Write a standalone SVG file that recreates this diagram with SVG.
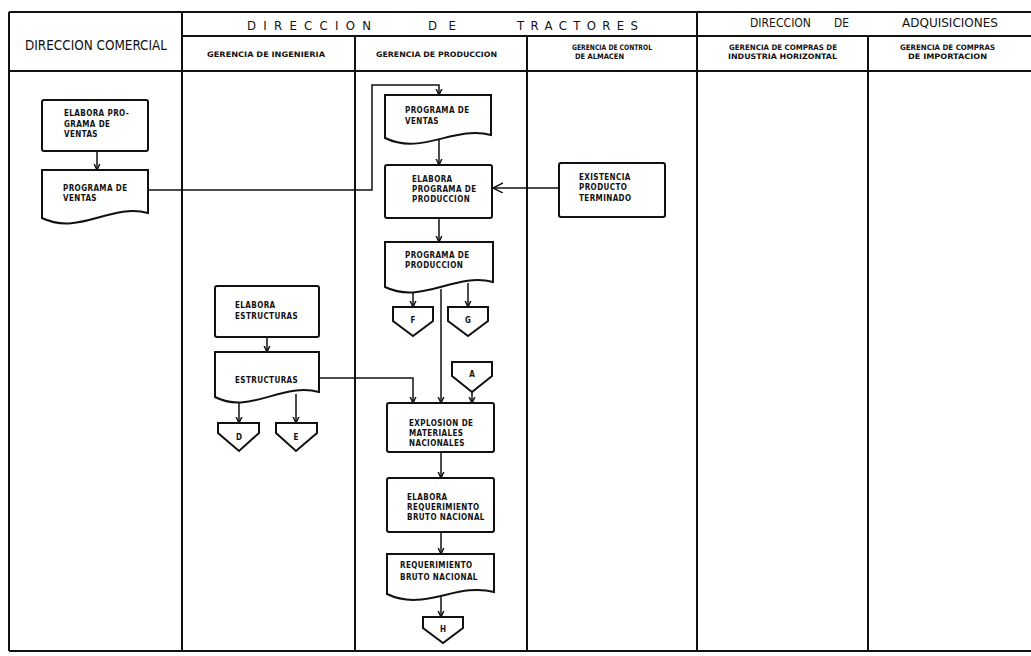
<svg xmlns="http://www.w3.org/2000/svg" width="1031" height="656" viewBox="0 0 1031 656">
  <defs>
    <marker id="arr" markerWidth="8" markerHeight="8" refX="6.5" refY="3.5" orient="auto" markerUnits="userSpaceOnUse">
      <path d="M0,0.5 L6.5,3.5 L0,6.5" fill="none" stroke="#111" stroke-width="1.4"/>
    </marker>
    <marker id="arrOpen" markerWidth="12" markerHeight="12" refX="10" refY="5" orient="auto" markerUnits="userSpaceOnUse">
      <path d="M0,0 L10,5 L0,10" fill="none" stroke="#111" stroke-width="1.4"/>
    </marker>
  </defs>
  <style>
    .frame { stroke: #111; stroke-width: 2; fill: none; }
    .box { fill: #fff; stroke: #111; stroke-width: 2; }
    .conn { fill: none; stroke: #111; stroke-width: 1.5; }
    .hdr { font-family: "DejaVu Sans Condensed", "DejaVu Sans", sans-serif; font-stretch: condensed; fill: #111; }
    .big { font-size: 14px; }
    .mid { font-size: 13px; }
    .sub { font-size: 7.5px; font-weight: bold; }
    .lbl { font-family: "DejaVu Sans Condensed", "DejaVu Sans", sans-serif; font-stretch: condensed; font-size: 8px; font-weight: bold; fill: #111; letter-spacing: 0.4px; }
    .cl { font-family: "DejaVu Sans Condensed", "DejaVu Sans", sans-serif; font-size: 8px; font-weight: bold; fill: #111; text-anchor: middle; }
  </style>
  <rect width="1031" height="656" fill="#fff"/>

  <!-- swimlane frame -->
  <g id="frame" class="frame">
    <line x1="9" y1="12" x2="1031" y2="12"/>
    <line x1="182" y1="36" x2="1031" y2="36"/>
    <line x1="9" y1="71" x2="1031" y2="71"/>
    <line x1="9" y1="651" x2="1031" y2="651"/>
    <line x1="9" y1="12" x2="9" y2="651"/>
    <line x1="182" y1="12" x2="182" y2="651"/>
    <line x1="697" y1="12" x2="697" y2="651"/>
    <line x1="355" y1="36" x2="355" y2="651"/>
    <line x1="527" y1="36" x2="527" y2="651"/>
    <line x1="868" y1="36" x2="868" y2="651"/>
  </g>

  <!-- header texts -->
  <g id="headers" class="hdr">
    <text class="big" x="25" y="50" textLength="142" lengthAdjust="spacingAndGlyphs">DIRECCION COMERCIAL</text>
    <text class="mid" x="247" y="30" textLength="124" lengthAdjust="spacing">DIRECCION</text>
    <text class="mid" x="428" y="30" textLength="28" lengthAdjust="spacing">DE</text>
    <text class="mid" x="517" y="30" textLength="121" lengthAdjust="spacing">TRACTORES</text>
    <text class="mid" x="750" y="27" textLength="61" lengthAdjust="spacingAndGlyphs">DIRECCION</text>
    <text class="mid" x="834" y="27" textLength="15" lengthAdjust="spacingAndGlyphs">DE</text>
    <text class="mid" x="902" y="27" textLength="96" lengthAdjust="spacingAndGlyphs">ADQUISICIONES</text>
    <text class="sub" x="207" y="57" textLength="118" lengthAdjust="spacingAndGlyphs">GERENCIA DE INGENIERIA</text>
    <text class="sub" x="376" y="57" textLength="121" lengthAdjust="spacingAndGlyphs">GERENCIA DE PRODUCCION</text>
    <text class="sub" x="572" y="50" textLength="80" lengthAdjust="spacingAndGlyphs">GERENCIA DE CONTROL</text>
    <text class="sub" x="575" y="59" textLength="49" lengthAdjust="spacingAndGlyphs">DE  ALMACEN</text>
    <text class="sub" x="729" y="50" textLength="108" lengthAdjust="spacingAndGlyphs">GERENCIA DE COMPRAS DE</text>
    <text class="sub" x="728" y="59" textLength="109" lengthAdjust="spacingAndGlyphs">INDUSTRIA HORIZONTAL</text>
    <text class="sub" x="900" y="50" textLength="95" lengthAdjust="spacingAndGlyphs">GERENCIA DE COMPRAS</text>
    <text class="sub" x="908" y="59" textLength="79" lengthAdjust="spacingAndGlyphs">DE IMPORTACION</text>
  </g>

  <!-- connectors -->
  <g id="connectors" class="conn">
    <path d="M97,151 V170" marker-end="url(#arr)"/>
    <path d="M148,190 H372 V85 H439 V95" marker-end="url(#arr)"/>
    <path d="M439,138 V165" marker-end="url(#arr)"/>
    <path d="M559,188 H493" marker-end="url(#arrOpen)"/>
    <path d="M439,218 V242" marker-end="url(#arr)"/>
    <path d="M413,292 V307" marker-end="url(#arr)"/>
    <path d="M468,283 V307" marker-end="url(#arr)"/>
    <path d="M441,289 V403" marker-end="url(#arr)"/>
    <path d="M267,337 V352" marker-end="url(#arr)"/>
    <path d="M319,378 H413 V403" marker-end="url(#arr)"/>
    <path d="M472,392 V403" marker-end="url(#arr)"/>
    <path d="M239,402 V423" marker-end="url(#arr)"/>
    <path d="M296,394 V423" marker-end="url(#arr)"/>
    <path d="M441,452 V478" marker-end="url(#arr)"/>
    <path d="M441,532 V554" marker-end="url(#arr)"/>
    <path d="M441,597 V617" marker-end="url(#arr)"/>
  </g>

  <!-- Direccion Comercial -->
  <g id="elabora-programa-ventas">
    <rect class="box" x="42" y="100" width="106" height="51" rx="2"/>
    <text class="lbl" x="64" y="116">ELABORA PRO-</text>
    <text class="lbl" x="64" y="127">GRAMA DE</text>
    <text class="lbl" x="64" y="137">VENTAS</text>
  </g>
  <g id="programa-ventas-com">
    <path class="box" d="M42,170 H148 V213 C111,203 79,236 42,218 Z"/>
    <text class="lbl" x="63" y="191">PROGRAMA DE</text>
    <text class="lbl" x="63" y="201">VENTAS</text>
  </g>

  <!-- Gerencia de Produccion -->
  <g id="programa-ventas-prod">
    <path class="box" d="M385,95 H491 V135 C454,125 422,156 385,138 Z"/>
    <text class="lbl" x="405" y="113">PROGRAMA DE</text>
    <text class="lbl" x="405" y="124">VENTAS</text>
  </g>
  <g id="elabora-programa-produccion">
    <rect class="box" x="385" y="165" width="107" height="53" rx="2"/>
    <text class="lbl" x="412" y="182">ELABORA</text>
    <text class="lbl" x="412" y="192">PROGRAMA DE</text>
    <text class="lbl" x="412" y="202">PRODUCCION</text>
  </g>
  <g id="programa-produccion">
    <path class="box" d="M385,242 H493 V282 C455,272 423,305 385,287 Z"/>
    <text class="lbl" x="405" y="258">PROGRAMA DE</text>
    <text class="lbl" x="405" y="268">PRODUCCION</text>
  </g>
  <g id="conector-f">
    <path class="box" d="M393,307 H433 V321 L413,336 L393,321 Z"/>
    <text class="cl" x="413" y="323">F</text>
  </g>
  <g id="conector-g">
    <path class="box" d="M448,307 H488 V321 L468,336 L448,321 Z"/>
    <text class="cl" x="468" y="323">G</text>
  </g>
  <g id="conector-a">
    <path class="box" d="M452,362 H492 V376 L472,392 L452,376 Z"/>
    <text class="cl" x="472" y="377">A</text>
  </g>
  <g id="explosion-materiales">
    <rect class="box" x="387" y="403" width="107" height="49" rx="2"/>
    <text class="lbl" x="409" y="426">EXPLOSION DE</text>
    <text class="lbl" x="409" y="436">MATERIALES</text>
    <text class="lbl" x="409" y="446">NACIONALES</text>
  </g>
  <g id="elabora-requerimiento">
    <rect class="box" x="387" y="478" width="107" height="54" rx="2"/>
    <text class="lbl" x="407" y="500">ELABORA</text>
    <text class="lbl" x="407" y="510">REQUERIMIENTO</text>
    <text class="lbl" x="407" y="520">BRUTO NACIONAL</text>
  </g>
  <g id="requerimiento-bruto">
    <path class="box" d="M387,554 H494 V592 C457,582 424,612 387,594 Z"/>
    <text class="lbl" x="400" y="568">REQUERIMIENTO</text>
    <text class="lbl" x="400" y="580">BRUTO NACIONAL</text>
  </g>
  <g id="conector-h">
    <path class="box" d="M423,617 H463 V628 L443,643 L423,628 Z"/>
    <text class="cl" x="443" y="632">H</text>
  </g>

  <!-- Gerencia de Control de Almacen -->
  <g id="existencia-producto">
    <rect class="box" x="559" y="163" width="106" height="54" rx="2"/>
    <text class="lbl" x="579" y="180">EXISTENCIA</text>
    <text class="lbl" x="579" y="190">PRODUCTO</text>
    <text class="lbl" x="579" y="201">TERMINADO</text>
  </g>

  <!-- Gerencia de Ingenieria -->
  <g id="elabora-estructuras">
    <rect class="box" x="215" y="286" width="104" height="51" rx="2"/>
    <text class="lbl" x="235" y="308">ELABORA</text>
    <text class="lbl" x="235" y="319">ESTRUCTURAS</text>
  </g>
  <g id="estructuras">
    <path class="box" d="M215,352 H319 V392 C282,382 250,415 215,397 Z"/>
    <text class="lbl" x="235" y="383">ESTRUCTURAS</text>
  </g>
  <g id="conector-d">
    <path class="box" d="M218,423 H259 V433 L239,451 L218,433 Z"/>
    <text class="cl" x="239" y="440">D</text>
  </g>
  <g id="conector-e">
    <path class="box" d="M276,423 H317 V433 L296,451 L276,433 Z"/>
    <text class="cl" x="296" y="440">E</text>
  </g>
</svg>
